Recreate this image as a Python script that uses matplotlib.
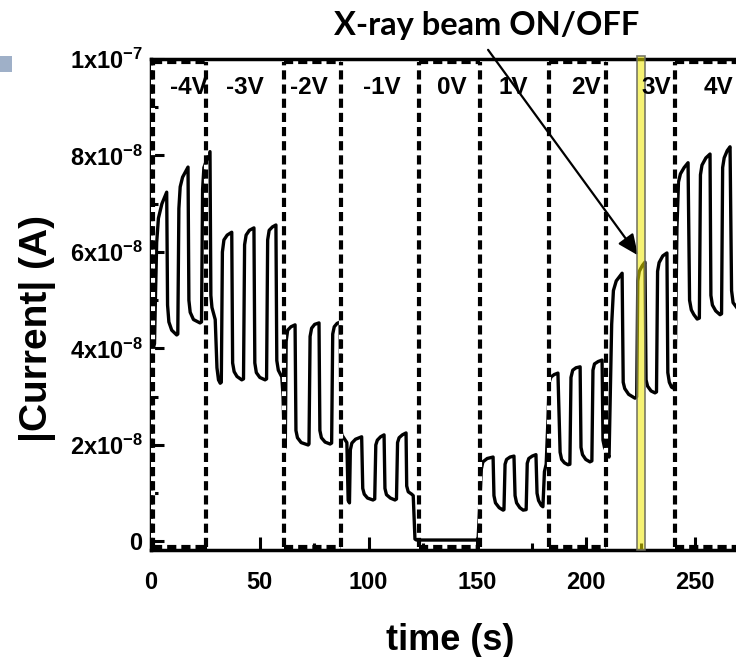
import numpy as np
import matplotlib
matplotlib.use("Agg")
import matplotlib.pyplot as plt
from matplotlib.ticker import MultipleLocator, FixedLocator
from matplotlib.patches import FancyBboxPatch

plt.rcParams['font.family'] = ['Liberation Sans', 'DejaVu Sans']
plt.rcParams['font.weight'] = 'bold'
plt.rcParams['mathtext.fontset'] = 'custom'
plt.rcParams['mathtext.rm'] = 'Liberation Sans:bold'
plt.rcParams['mathtext.bf'] = 'Liberation Sans:bold'

# ---------------- data ----------------
# time in s, |current| in units of 1e-8 A
time_s = [
    0.3, 1.6, 2.0, 2.6, 3.4, 5.0, 7.2,
    7.6, 8.2, 9.5, 11.8,
    12.3, 12.8, 13.4, 14.5, 17.0,
    17.4, 18.0, 19.5, 22.5,
    23.2, 23.7, 24.3, 25.5, 27.1,
    27.5, 28.0, 28.8, 29.5, 30.3, 31.0, 31.8,
    32.3, 32.8, 33.5, 35.0, 37.1,
    37.5, 38.2, 39.5, 41.7,
    42.5, 43.0, 43.7, 45.2, 47.3,
    47.7, 48.4, 50.0, 52.4,
    53.1, 53.6, 54.3, 55.8, 57.4,
    57.8, 58.5, 60.1, 60.7, 61.3, 61.7,
    62.1, 62.8, 64.3, 66.2,
    66.6, 67.3, 69.0, 72.2,
    72.6, 73.1, 73.8, 75.2, 77.2,
    77.6, 78.3, 80.0, 82.3,
    83.0, 83.5, 84.2, 85.5, 86.9,
    87.3, 87.8, 89.0, 90.0, 90.6, 91.2,
    91.6, 92.3, 94.0, 96.8,
    97.3, 98.0, 99.5, 102.0,
    102.8, 103.3, 104.0, 105.5, 107.1,
    107.5, 108.2, 110.0, 112.1,
    112.8, 113.3, 114.0, 115.5, 117.2,
    117.5, 118.2, 119.8, 120.5, 121.3, 122.0,
    150.3,
    150.8, 151.8, 152.5, 154.5, 157.2,
    157.6, 158.3, 160.0, 161.8,
    162.2, 162.7, 163.4, 165.0, 166.8,
    167.3, 168.0, 169.5, 171.0,
    172.4, 172.9, 173.6, 175.2, 176.9,
    177.4, 178.1, 179.3, 180.1,
    180.8, 181.6, 182.4, 183.0, 183.8, 185.3, 187.0,
    188.0, 188.7, 190.0, 191.6,
    192.5, 193.0, 193.8, 195.3, 197.2,
    197.6, 198.3, 199.8, 201.7,
    202.6, 203.1, 203.8, 205.5, 207.3,
    207.7, 208.4, 209.5, 210.5,
    211.0, 211.7, 212.5, 213.8, 216.5,
    217.0, 217.7, 219.5, 222.4,
    223.2, 223.7, 224.4, 225.8, 227.0,
    227.5, 228.2, 229.8, 231.6,
    232.3, 232.8, 233.5, 235.2, 237.1,
    237.5, 238.2, 239.2, 239.9,
    240.8, 241.7, 242.4, 243.3, 245.0, 246.8,
    247.5, 248.3, 249.5, 251.0,
    252.0, 252.5, 253.2, 255.0, 256.9,
    257.3, 258.0, 259.5, 261.5,
    262.2, 262.7, 263.4, 264.8, 266.1,
    266.8, 267.5, 270.0, 275.0,
]
current_e8 = [
    3.90, 4.10, 5.00, 6.20, 6.70, 7.00, 7.24,
    4.90, 4.55, 4.38, 4.28,
    4.30, 6.90, 7.35, 7.55, 7.76,
    5.00, 4.75, 4.60, 4.53,
    4.55, 7.30, 7.75, 7.90, 8.08,
    5.10, 4.85, 4.72, 4.60, 3.60, 3.35, 3.28,
    3.30, 6.00, 6.25, 6.35, 6.41,
    3.70, 3.52, 3.42, 3.35,
    3.37, 6.15, 6.35, 6.45, 6.50,
    3.70, 3.50, 3.40, 3.35,
    3.37, 6.25, 6.45, 6.52, 6.56,
    3.75, 3.55, 3.41, 3.00, 2.00, 1.95,
    4.15, 4.38, 4.45, 4.49,
    2.30, 2.15, 2.05, 2.00,
    2.02, 4.25, 4.42, 4.50, 4.53,
    2.30, 2.15, 2.06, 2.02,
    2.04, 4.30, 4.45, 4.52, 4.55,
    2.30, 2.20, 2.12, 2.05, 0.85, 0.80,
    1.90, 2.04, 2.12, 2.17,
    1.10, 0.98, 0.90, 0.86,
    0.88, 2.00, 2.10, 2.17, 2.21,
    1.10, 0.97, 0.90, 0.86,
    0.88, 2.05, 2.15, 2.21, 2.25,
    1.15, 1.03, 0.98, 0.95, 0.05, 0.03,
    0.03,
    0.50, 1.50, 1.65, 1.72, 1.75,
    0.95, 0.80, 0.70, 0.65,
    0.66, 1.60, 1.70, 1.75, 1.77,
    0.95, 0.80, 0.70, 0.65,
    0.66, 1.62, 1.72, 1.77, 1.80,
    1.00, 0.85, 0.75, 0.72,
    1.45, 1.60, 2.50, 3.30, 3.41, 3.46, 3.49,
    1.85, 1.70, 1.63, 1.59,
    1.60, 3.40, 3.55, 3.60, 3.62,
    1.95, 1.80, 1.70, 1.65,
    1.67, 3.55, 3.68, 3.73, 3.76,
    2.10, 1.95, 1.85, 1.75,
    2.90, 4.50, 5.20, 5.40, 5.56,
    3.30, 3.17, 3.05, 2.97,
    3.00, 5.40, 5.60, 5.72, 5.79,
    3.35, 3.22, 3.12, 3.08,
    3.10, 5.60, 5.78, 5.92, 5.98,
    3.50, 3.30, 3.20, 3.18,
    3.30, 6.50, 7.45, 7.62, 7.75, 7.85,
    5.00, 4.80, 4.70, 4.61,
    4.63, 7.60, 7.80, 7.95, 8.03,
    5.10, 4.90, 4.78, 4.70,
    4.72, 7.75, 7.95, 8.10, 8.18,
    5.20, 4.95, 4.80, 4.75,
]

# boxed bias regions (dashed rectangles) and region labels
boxed_regions = [(0.8, 25.3), (61.0, 87.3), (123.0, 151.0), (183.0, 209.0), (241.0, 300.0)]
bias_labels = ['-4V', '-3V', '-2V', '-1V', '0V', '1V', '2V', '3V', '4V']
bias_label_t = [17.5, 43.2, 72.6, 106.0, 138.3, 166.4, 199.9, 232.0, 260.6]
beam_band = (223.3, 227.0)
arrow_from = (154.9, 10.19e-8)
arrow_to = (223.8, 5.93e-8)

ytick_vals = [0, 2e-8, 4e-8, 6e-8, 8e-8, 1e-7]
ytick_labels = ['0', r'$\mathbf{2x10^{-8}}$', r'$\mathbf{4x10^{-8}}$', r'$\mathbf{6x10^{-8}}$',
                r'$\mathbf{8x10^{-8}}$', r'$\mathbf{1x10^{-7}}$']
xtick_vals = [0, 50, 100, 150, 200, 250]

# ---------------- figure ----------------
fig = plt.figure(figsize=(7.36, 6.57), dpi=100)
ax = fig.add_axes([0.2052, 0.1629, 0.8278, 0.7473])
ax.set_xlim(0, 280)
ax.set_ylim(-0.176e-8, 1.0e-7)

current = np.array(current_e8) * 1e-8
ax.plot(time_s, current, color='black', lw=2.4, solid_joinstyle='round', zorder=2)

ybot, ytop = -0.12e-8, 9.93e-8
dash = (0, (2.2, 1.2))
for x0, x1 in boxed_regions:
    ax.plot([x0, x1], [ybot, ybot], color='black', lw=3, ls=dash, zorder=3)
    ax.plot([x0, x1], [ytop, ytop], color='black', lw=3, ls=dash, zorder=3)
    for xv in (x0, x1):
        ax.plot([xv, xv], [ybot, ytop], color='black', lw=3, ls=dash,
                gapcolor='white', zorder=3)

for lab, t in zip(bias_labels, bias_label_t):
    ax.text(t, 9.4e-8, lab, ha='center', va='center', fontsize=17.5,
            fontweight='bold', zorder=6)

ax.annotate('', xy=arrow_to, xytext=arrow_from, annotation_clip=False,
            arrowprops=dict(arrowstyle='-|>,head_length=0.9,head_width=0.4',
                            lw=1.6, color='black', shrinkA=0, shrinkB=0,
                            mutation_scale=14), zorder=4)

ax.axvspan(beam_band[0], beam_band[1], ymin=0, ymax=1.006, clip_on=False,
           facecolor=(0.94, 0.91, 0.0, 0.55), edgecolor=(0.42, 0.42, 0.36, 0.9),
           lw=1.2, zorder=5)

for s in ['left', 'bottom', 'top', 'right']:
    ax.spines[s].set_linewidth(2.5)

ax.xaxis.set_major_locator(FixedLocator(xtick_vals))
ax.xaxis.set_minor_locator(MultipleLocator(25))
ax.yaxis.set_major_locator(FixedLocator(ytick_vals))
ax.yaxis.set_minor_locator(MultipleLocator(1e-8))
ax.set_yticklabels(ytick_labels)
ax.set_xticklabels([str(v) for v in xtick_vals])
ax.tick_params(which='major', direction='in', length=9.5, width=2.2, labelsize=17)
ax.tick_params(which='minor', direction='in', length=5, width=2.2)
ax.tick_params(axis='x', which='major', pad=15)
ax.tick_params(axis='y', which='major', pad=6)
ax.tick_params(top=False, right=False, which='both')

fig.text(486.5 / 736, 1 - 35 / 657, 'X-ray beam ON/OFF', ha='center', va='baseline',
         fontsize=23.5, family=['Lato', 'DejaVu Sans'], weight='bold')
fig.text(38 / 736, 1 - 328 / 657, '|Current| (A)', rotation=90, ha='center',
         va='center', fontsize=28, weight='bold')
fig.text(450 / 736, 1 - 640 / 657, 'time (s)', ha='center', va='center',
         fontsize=26, weight='bold')

fig.patches.append(FancyBboxPatch((0, 1 - 72 / 657), 12 / 736, 16 / 657,
                                  boxstyle='round,pad=0', transform=fig.transFigure,
                                  facecolor='#9fb0c8', edgecolor='none'))

fig.savefig('out.png', dpi=100)
